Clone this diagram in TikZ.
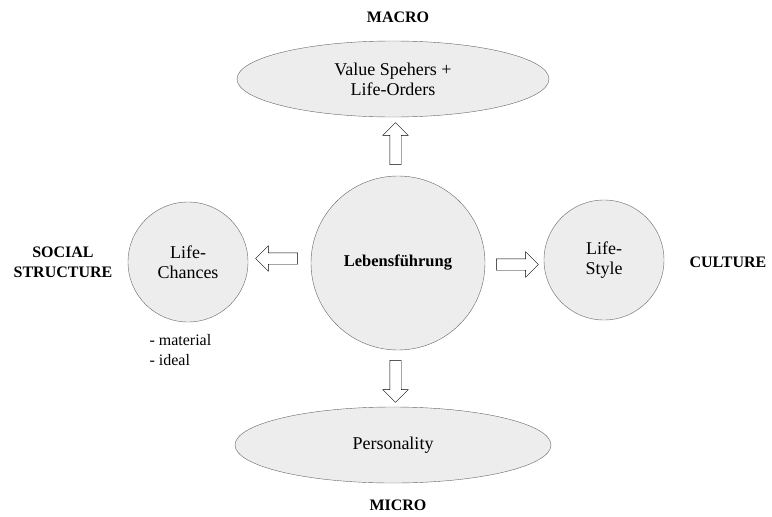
\documentclass[tikz,border=0pt]{standalone}
\usepackage{fontspec}
\setmainfont{Liberation Serif}
\usetikzlibrary{shapes.geometric,shapes.arrows}

\begin{document}
\begin{tikzpicture}[x=1pt,y=-1pt,
    bubble/.style={draw=black!60,fill=black!7,thin,align=center,inner sep=0pt,
        font=\fontsize{18}{20}\selectfont},
    blockarrow/.style={single arrow,draw=black,fill=white,thin,inner xsep=0pt,inner ysep=5.5pt,
        single arrow head extend=7pt,minimum height=42pt},
    level/.style={align=center,font=\fontsize{16}{20}\selectfont\bfseries}]
            \useasboundingbox (0,0) rectangle (772,517);

            % the five bubbles
            \node[bubble,circle,minimum size=174pt] (lf) at (398,263) {\fontsize{16.5}{20}\selectfont\textbf{Lebensführung}};
            \node[bubble,circle,minimum size=120pt] (chances) at (188,262) {Life-\\Chances};
            \node[bubble,circle,minimum size=120pt] (style) at (604,260) {Life-\\Style};
            \node[bubble,ellipse,minimum width=312pt,minimum height=76pt] (spheres) at (393,79) {Value Spehers +\\Life-Orders};
            \node[bubble,ellipse,minimum width=316pt,minimum height=76pt] (person) at (393,445) {Personality};

            % levels
            \node[level] (macro) at (398,17) {MACRO};
            \node[level] (micro) at (398,505) {MICRO};
            \node[level] (social) at (63,262) {SOCIAL\\STRUCTURE};
            \node[level] (culture) at (728,262) {CULTURE};
            \node[anchor=north west,align=left,font=\fontsize{16}{20}\selectfont] (resources) at (146,331) {- material\\- ideal};

            % block arrows
            \path (lf.north) -- (spheres.south) node[blockarrow,midway,rotate=90] (up) {};
            \path (lf.south) -- (person.north) node[blockarrow,midway,rotate=-90] (down) {};
            \path (lf.west) -- (chances.east) node[blockarrow,midway,rotate=180,yshift=-4pt] (left) {};
            \path (lf.east) -- (style.west) node[blockarrow,midway,yshift=-3pt] (right) {};
        \end{tikzpicture}
\end{document}
